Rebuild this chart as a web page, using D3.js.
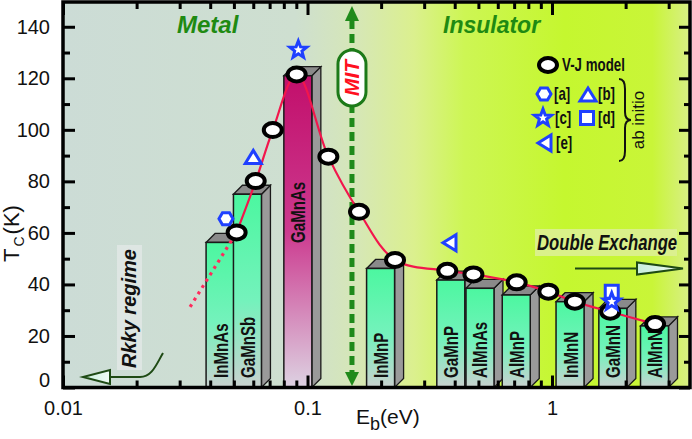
<!DOCTYPE html>
<html><head><meta charset="utf-8">
<script src="https://cdn.jsdelivr.net/npm/d3@7"></script>
<style>html,body{margin:0;padding:0;background:#fff;} svg{display:block;}</style>
</head><body><svg id="c" width="692" height="439"></svg>
<script>
// ---------- data ----------
const vjE = [0.0513, 0.0614, 0.0721, 0.0903, 0.1217, 0.1624, 0.228, 0.373, 0.477, 0.717, 0.966, 1.24, 1.73, 2.64];
const vjT = [60.2, 80.1, 99.9, 121.5, 89.6, 68.2, 49.5, 45.3, 43.9, 40.8, 37.2, 33.3, 29.4, 24.6];
const rkkyE = [0.0331, 0.0513];
const rkkyT = [31.3, 60.2];
const barNames = ["InMnAs","GaMnSb","GaMnAs","InMnP","GaMnP","AlMnAs","AlMnP","InMnN","GaMnN","AlMnN"];
const barE = [0.0439, 0.0568, 0.0913, 0.199, 0.3855, 0.5075, 0.714, 1.185, 1.773, 2.625];
const barT = [56.3, 75, 121, 46.2, 41.7, 38.5, 35.9, 33.3, 30.7, 23.9];
const abA_E = [0.0464], abA_T = [65.5];
const abB_E = [0.060],  abB_T = [89.3];
const abC_E = [0.0917, 1.755], abC_T = [131, 33.3];
const abD_E = [1.755],  abD_T = [37.2];
const abE_E = [0.3826], abE_T = [56.2];
const mitE = 0.152;
const xMajor = [0.01, 0.1, 1];
const yMajor = [0, 20, 40, 60, 80, 100, 120, 140];
const yMinor = [10, 30, 50, 70, 90, 110, 130];
const legendKeys = ["[a]","[b]","[c]","[d]","[e]"];

// ---------- setup ----------
const L = 63, R = 690, T0 = 2, B = 387.5;
const svg = d3.select("#c");
const x = d3.scaleLog().domain([0.01, 3.667]).range([L, R]);
const y = d3.scaleLinear().domain([0, 150]).range([B, 1]);
const xMinor = [];
[0.01, 0.1, 1].forEach(d => { for (let k = 2; k <= 9; k++) { const v = +(k * d).toPrecision(3); if (v < 3.6) xMinor.push(v); } });

const SANS = "'Liberation Sans', Arial, sans-serif";

const defs = svg.append("defs");
const bg = defs.append("linearGradient").attr("id", "bg").attr("gradientUnits", "userSpaceOnUse")
  .attr("x1", L).attr("x2", R).attr("y1", 0).attr("y2", 0);
[[0, "#ccdcd6"], [0.37, "#cedfd0"], [0.47, "#d6e7b6"], [0.56, "#dbf08e"], [0.64, "#cdf654"], [0.8, "#c5f72f"], [0.94, "#c9f538"], [1, "#d8ef86"]]
  .forEach(s => bg.append("stop").attr("offset", s[0]).attr("stop-color", s[1]));
const g1 = defs.append("linearGradient").attr("id", "mint").attr("x1", 0).attr("x2", 0).attr("y1", 0).attr("y2", 1);
[[0, "#4cf7a0"], [0.55, "#74f2bc"], [1, "#c9d1cf"]].forEach(s => g1.append("stop").attr("offset", s[0]).attr("stop-color", s[1]));
const g2 = defs.append("linearGradient").attr("id", "mag").attr("x1", 0).attr("x2", 0).attr("y1", 0).attr("y2", 1);
[[0, "#c20f6b"], [0.5, "#cc3a8f"], [1, "#ddd2e2"]].forEach(s => g2.append("stop").attr("offset", s[0]).attr("stop-color", s[1]));
const ga = defs.append("linearGradient").attr("id", "arr").attr("x1", 0).attr("x2", 1).attr("y1", 0).attr("y2", 0);
[[0, "#c8eedc"], [1, "#f0fbf4"]].forEach(s => ga.append("stop").attr("offset", s[0]).attr("stop-color", s[1]));

// background
svg.append("rect").attr("x", L).attr("y", T0).attr("width", R - L).attr("height", B - T0).attr("fill", "url(#bg)");

// annotation boxes
svg.append("rect").attr("x", 117).attr("y", 245).attr("width", 25).attr("height", 125).attr("fill", "#e1e8e5").attr("opacity", 0.85);
svg.append("rect").attr("x", 535).attr("y", 229).attr("width", 142).attr("height", 27).attr("fill", "#dcf094").attr("opacity", 0.9);

// MIT dashed arrow
const mx = x(mitE);
const GREEN = "#1f8a1a";
svg.append("line").attr("x1", mx).attr("x2", mx).attr("y1", 20).attr("y2", 375)
  .attr("stroke", GREEN).attr("stroke-width", 5).attr("stroke-dasharray", "9,5");
svg.append("path").attr("d", `M${mx},6 L${mx + 7},21 L${mx - 7},21 Z`).attr("fill", GREEN);
svg.append("path").attr("d", `M${mx},386 L${mx + 7},372 L${mx - 7},372 Z`).attr("fill", GREEN);
svg.append("rect").attr("x", mx - 14).attr("y", 50).attr("width", 28).attr("height", 56).attr("rx", 14)
  .attr("fill", "#fff").attr("stroke", "#1c7a18").attr("stroke-width", 3);
svg.append("text").attr("transform", `translate(${mx + 7},78) rotate(-90)`).attr("text-anchor", "middle")
  .attr("font-family", SANS).attr("font-weight", "bold").attr("font-style", "italic").attr("font-size", 21)
  .attr("fill", "#ff1020").text("MIT");

// bars
const bw = 28, dx = 9, dy = 9;
const bars = svg.append("g");
barNames.forEach((n, i) => {
  const cx = x(barE[i]), xl = cx - bw / 2, xr = cx + bw / 2, yt = y(barT[i]), y0 = y(0);
  const g = bars.append("g");
  g.append("path").attr("d", `M${xr},${yt} L${xr + dx},${yt - dy} L${xr + dx},${y0 - dy} L${xr},${y0} Z`)
    .attr("fill", "#9a9a9a").attr("stroke", "#1a1a1a").attr("stroke-width", 1.3);
  g.append("path").attr("d", `M${xl},${yt} L${xl + dx},${yt - dy} L${xr + dx},${yt - dy} L${xr},${yt} Z`)
    .attr("fill", "#8a8a8a").attr("stroke", "#1a1a1a").attr("stroke-width", 1.3);
  g.append("rect").attr("x", xl).attr("y", yt).attr("width", bw).attr("height", y0 - yt)
    .attr("fill", n === "GaMnAs" ? "url(#mag)" : "url(#mint)").attr("stroke", "#1a1a1a").attr("stroke-width", 1.5);
  const ys = n === "GaMnAs" ? 243 : 378;
  g.append("text").attr("transform", `translate(${cx + 7.5},${ys}) rotate(-90) scale(0.72,1)`)
    .attr("font-family", SANS).attr("font-weight", "bold").attr("font-size", 21).attr("fill", "#111").text(n);
});

// curves
const line = d3.line().x(d => x(d[0])).y(d => y(d[1])).curve(d3.curveCatmullRom.alpha(0.5));
svg.append("path").attr("d", line(vjE.map((e, i) => [e, vjT[i]]))).attr("fill", "none").attr("stroke", "#f2164c").attr("stroke-width", 2.2);
svg.append("path").attr("d", d3.line().x(d => x(d[0])).y(d => y(d[1]))(rkkyE.map((e, i) => [e, rkkyT[i]])))
  .attr("fill", "none").attr("stroke", "#ff2a5c").attr("stroke-width", 3.2).attr("stroke-dasharray", "3,4.5");

// V-J circles
svg.append("g").selectAll("ellipse").data(vjE.map((e, i) => [e, vjT[i]])).join("ellipse")
  .attr("cx", d => x(d[0])).attr("cy", d => y(d[1])).attr("rx", 9).attr("ry", 7)
  .attr("fill", "#fff").attr("stroke", "#000").attr("stroke-width", 4);

// ab initio symbols
const BLUE = "#1f40ff";
const shapes = {
  a: "M-7,0 L-3.5,-6 L3.5,-6 L7,0 L3.5,6 L-3.5,6 Z",
  b: "M0,-7 L8,6 L-8,6 Z",
  c: (() => { let p = ""; for (let k = 0; k < 10; k++) { const r = k % 2 ? 3.8 : 9, a = -Math.PI / 2 + k * Math.PI / 5; p += (k ? "L" : "M") + (r * Math.cos(a)).toFixed(2) + "," + (r * Math.sin(a)).toFixed(2); } return p + "Z"; })(),
  d: "M-6.5,-6.5 h13 v13 h-13 Z",
  e: "M-7,0 L6,-8 L6,8 Z"
};
function sym(k, px, py) {
  svg.append("path").attr("d", shapes[k]).attr("transform", `translate(${px},${py})`)
    .attr("fill", "#fff").attr("stroke", BLUE).attr("stroke-width", 3).attr("stroke-linejoin", "miter");
}
abA_E.forEach((e, i) => sym("a", x(e), y(abA_T[i])));
abB_E.forEach((e, i) => sym("b", x(e), y(abB_T[i])));
abD_E.forEach((e, i) => sym("d", x(e), y(abD_T[i])));
abC_E.forEach((e, i) => sym("c", x(e), y(abC_T[i])));
abE_E.forEach((e, i) => sym("e", x(e), y(abE_T[i])));

// region labels
svg.append("text").attr("x", 177).attr("y", 33).attr("font-family", SANS).attr("font-weight", "bold").attr("font-style", "italic")
  .attr("font-size", 24).attr("fill", "#1f8a12").text("Metal");
svg.append("text").attr("x", 443).attr("y", 33).attr("font-family", SANS).attr("font-weight", "bold").attr("font-style", "italic")
  .attr("font-size", 23).attr("fill", "#1f8a12").text("Insulator");
svg.append("text").attr("transform", "translate(136,368) rotate(-90)").attr("font-family", SANS).attr("font-weight", "bold")
  .attr("font-style", "italic").attr("font-size", 20).attr("fill", "#111").text("Rkky regime");
svg.append("text").attr("transform", "translate(537,250) scale(0.76,1)").attr("font-family", SANS).attr("font-weight", "bold").attr("font-style", "italic")
  .attr("font-size", 22).attr("fill", "#111").text("Double Exchange");

// arrows
const DG = "#1e4a14";
svg.append("path").attr("d", "M163,353 C156,365 152,377 140,377 L110,377").attr("fill", "none").attr("stroke", DG).attr("stroke-width", 2);
svg.append("path").attr("d", "M110,370 L110,384 L83,377 Z").attr("fill", "url(#arr)").attr("stroke", DG).attr("stroke-width", 2);
svg.append("line").attr("x1", 575).attr("x2", 637).attr("y1", 268.5).attr("y2", 268.5).attr("stroke", DG).attr("stroke-width", 2);
svg.append("path").attr("d", "M637,262.5 L637,274.5 L683,268.5 Z").attr("fill", "url(#arr)").attr("stroke", DG).attr("stroke-width", 2);

// legend
svg.append("ellipse").attr("cx", 548).attr("cy", 65).attr("rx", 9).attr("ry", 7).attr("fill", "#fff").attr("stroke", "#000").attr("stroke-width", 4);
const legT = (tx, ty, s) => svg.append("text").attr("transform", `translate(${tx},${ty}) scale(0.74,1)`).attr("font-family", SANS).attr("font-weight", "bold")
  .attr("font-size", 18).attr("fill", "#111").text(s);
legT(562, 71, "V-J model");
sym("a", 544, 94); legT(554, 100, legendKeys[0]);
sym("b", 588, 95); legT(598, 100, legendKeys[1]);
sym("c", 543, 118); legT(555, 124, legendKeys[2]);
sym("d", 587, 118); legT(598, 124, legendKeys[3]);
sym("e", 545, 143); legT(556, 149, legendKeys[4]);
svg.append("path").attr("d", "M619,79 Q625,79 625,89 L625,112 Q625,120 631,120 Q625,120 625,128 L625,151 Q625,161 619,161")
  .attr("fill", "none").attr("stroke", "#111").attr("stroke-width", 2);
svg.append("text").attr("transform", "translate(644,120) rotate(-90)").attr("text-anchor", "middle")
  .attr("font-family", SANS).attr("font-size", 17).attr("fill", "#111").text("ab initio");

// axes
function styleAxis(g, labels) {
  g.select(".domain").remove();
  g.selectAll(".tick line").attr("stroke", "#000").attr("stroke-width", 3);
  g.selectAll(".tick text").attr("font-family", SANS).attr("font-size", 20).attr("fill", "#111");
  if (!labels) g.selectAll(".tick text").remove();
}
styleAxis(svg.append("g").attr("transform", `translate(0,${B})`).call(d3.axisBottom(x).tickValues(xMajor).tickSizeInner(-12).tickSizeOuter(0).tickPadding(13).tickFormat(d => String(d))), true);
styleAxis(svg.append("g").attr("transform", `translate(0,${B})`).call(d3.axisBottom(x).tickValues(xMinor).tickSizeInner(-7).tickSizeOuter(0)), false);
styleAxis(svg.append("g").attr("transform", `translate(0,${T0})`).call(d3.axisTop(x).tickValues(xMajor).tickSizeInner(-13).tickSizeOuter(0)), false);
styleAxis(svg.append("g").attr("transform", `translate(0,${T0})`).call(d3.axisTop(x).tickValues(xMinor).tickSizeInner(-7).tickSizeOuter(0)), false);
const ly = svg.append("g").attr("transform", `translate(${L},0)`).call(d3.axisLeft(y).tickValues(yMajor).tickSizeInner(-12).tickSizeOuter(0).tickPadding(13));
styleAxis(ly, true);
ly.selectAll(".tick text").filter(d => d === 0).attr("y", -7);
styleAxis(svg.append("g").attr("transform", `translate(${L},0)`).call(d3.axisLeft(y).tickValues(yMinor).tickSizeInner(-7).tickSizeOuter(0)), false);
styleAxis(svg.append("g").attr("transform", `translate(${R},0)`).call(d3.axisRight(y).tickValues(yMajor).tickSizeInner(-11).tickSizeOuter(0)), false);
styleAxis(svg.append("g").attr("transform", `translate(${R},0)`).call(d3.axisRight(y).tickValues(yMinor).tickSizeInner(-6).tickSizeOuter(0)), false);

// frame
svg.append("rect").attr("x", L).attr("y", T0).attr("width", R - L).attr("height", B - T0).attr("fill", "none").attr("stroke", "#000").attr("stroke-width", 3.5);

// axis titles
const xt = svg.append("text").attr("x", 356).attr("y", 424).attr("font-family", SANS).attr("font-size", 21).attr("fill", "#111");
xt.append("tspan").text("E");
xt.append("tspan").attr("dy", 6).attr("font-size", 18).text("b");
xt.append("tspan").attr("dy", -6).text("(eV)");
const yt = svg.append("text").attr("transform", "translate(19,262) rotate(-90)").attr("font-family", SANS).attr("font-size", 22).attr("fill", "#111");
yt.append("tspan").text("T");
yt.append("tspan").attr("dx", 2).attr("dy", 5).attr("font-size", 14).text("C");
yt.append("tspan").attr("dx", 2).attr("dy", -5).text("(K)");
</script></body></html>
